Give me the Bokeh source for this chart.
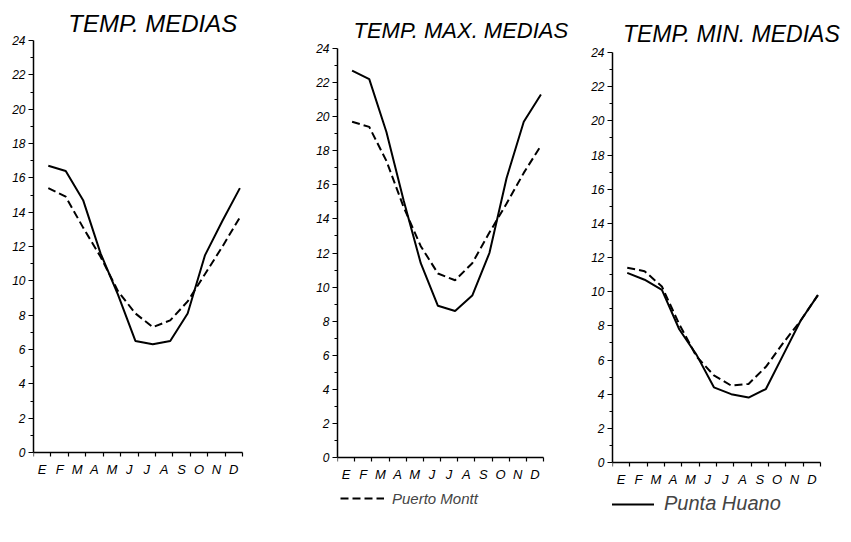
from bokeh.plotting import figure
from bokeh.models import Range1d, FixedTicker, Legend, LegendItem, Label
from bokeh.layouts import row
from bokeh.embed import file_html
from bokeh.resources import INLINE
import numpy as np

months = ["E", "F", "M", "A", "M", "J", "J", "A", "S", "O", "N", "D"]
y_ticks = list(range(0, 25, 2))

titles = ["TEMP. MEDIAS", "TEMP. MAX. MEDIAS", "TEMP. MIN. MEDIAS"]

# Puerto Montt (dashed) / Punta Huano (solid)
medias_pm = [15.4, 14.9, 13.1, 11.4, 9.4, 8.1, 7.3, 7.7, 8.8, 10.4, 12.0, 13.7]
medias_ph = [16.7, 16.4, 14.7, 11.6, 9.2, 6.5, 6.3, 6.5, 8.1, 11.5, 13.5, 15.4]
max_pm = [19.7, 19.4, 17.4, 14.7, 12.4, 10.8, 10.4, 11.4, 13.2, 14.9, 16.7, 18.3]
max_ph = [22.7, 22.2, 19.1, 15.1, 11.4, 8.9, 8.6, 9.5, 12.0, 16.4, 19.7, 21.3]
min_pm = [11.4, 11.2, 10.3, 8.1, 6.2, 5.1, 4.5, 4.6, 5.6, 7.0, 8.3, 9.8]
min_ph = [11.1, 10.7, 10.1, 7.8, 6.3, 4.4, 4.0, 3.8, 4.3, 6.3, 8.3, 9.8]

FONT = "Liberation Sans"
H = 540
TOP = 0  # page y of the top of every figure


def panel(title, pm, ph, width, left, plot_w, y24_px, y0_px, title_x, title_y_px, title_size):
    s = (y0_px - y24_px) / 24.0
    y_hi = 24 + (y24_px - TOP) / s
    y_lo = -(TOP + H - y0_px) / s
    x_hi = 12.0 * (width - left) / plot_w
    p = figure(width=width, height=H, x_range=Range1d(0, x_hi), y_range=Range1d(y_lo, y_hi),
               output_backend="svg", toolbar_location=None,
               min_border_left=left, min_border_right=0,
               min_border_top=0, min_border_bottom=0)
    p.outline_line_color = None
    p.grid.visible = False
    p.background_fill_color = "white"
    p.border_fill_color = "white"

    p.add_layout(Label(x=title_x, y=24 + (y24_px - title_y_px) / s, text=title,
                       text_font=FONT, text_font_style="italic", text_font_size=title_size,
                       text_color="black", text_baseline="middle", text_align="left"))

    x = np.arange(12) + 0.85
    r_pm = p.line(x, pm, line_color="black", line_width=2, line_dash="8 4")
    r_ph = p.line(x, ph, line_color="black", line_width=2)

    p.xaxis.fixed_location = 0
    p.xaxis.bounds = (0, 12)
    p.yaxis.bounds = (0, 24)
    p.yaxis.ticker = FixedTicker(ticks=y_ticks, minor_ticks=list(range(1, 24, 2)))
    p.xaxis.ticker = FixedTicker(ticks=[i + 0.5 for i in range(12)], minor_ticks=list(range(13)))
    p.xaxis.major_label_overrides = {i + 0.5: m for i, m in enumerate(months)}
    for ax in (p.xaxis[0], p.yaxis[0]):
        ax.axis_line_color = "black"
        ax.axis_line_width = 1.5
        ax.major_tick_line_color = "black"
        ax.minor_tick_line_color = "black"
        ax.major_tick_line_width = 1.2
        ax.minor_tick_line_width = 1.2
        ax.major_label_text_font = FONT
        ax.major_label_text_font_style = "italic"
        ax.major_label_text_color = "black"
    p.xaxis.major_tick_out = 0
    p.xaxis.major_tick_in = 0
    p.xaxis.minor_tick_out = 4
    p.xaxis.minor_tick_in = 0
    p.xaxis.major_label_standoff = 5
    p.xaxis.major_label_text_font_size = "13px"
    p.yaxis.major_tick_out = 5
    p.yaxis.major_tick_in = 0
    p.yaxis.minor_tick_out = 3
    p.yaxis.minor_tick_in = 0
    p.yaxis.major_label_standoff = 3
    p.yaxis.major_label_text_font_size = "12px"
    return p, r_pm, r_ph


p1, _, _ = panel(titles[0], medias_pm, medias_ph, 300, 33, 209, 40, 452, 2.0, 23, "24px")
p2, r2_pm, _ = panel(titles[1], max_pm, max_ph, 280, 37, 206, 48, 457, 0.93, 30, "22px")
p3, _, r3_ph = panel(titles[2], min_pm, min_ph, 270, 32, 208, 52, 462, 0.6, 33, "23px")

leg2 = Legend(items=[LegendItem(label="Puerto Montt", renderers=[r2_pm])],
              location=(3, 32), orientation="horizontal", glyph_width=44,
              label_text_font=FONT, label_text_font_style="italic", label_text_font_size="15px",
              label_standoff=8, border_line_color=None, background_fill_alpha=0,
              margin=0, padding=0)
p2.add_layout(leg2, "center")
leg3 = Legend(items=[LegendItem(label="Punta Huano", renderers=[r3_ph])],
              location=(-2, 25), orientation="horizontal", glyph_width=44,
              label_text_font=FONT, label_text_font_style="italic", label_text_font_size="20px",
              label_standoff=10, border_line_color=None, background_fill_alpha=0,
              margin=0, padding=0)
p3.add_layout(leg3, "center")

layout = row(p1, p2, p3)
open("out.html", "w").write(file_html(layout, INLINE))
